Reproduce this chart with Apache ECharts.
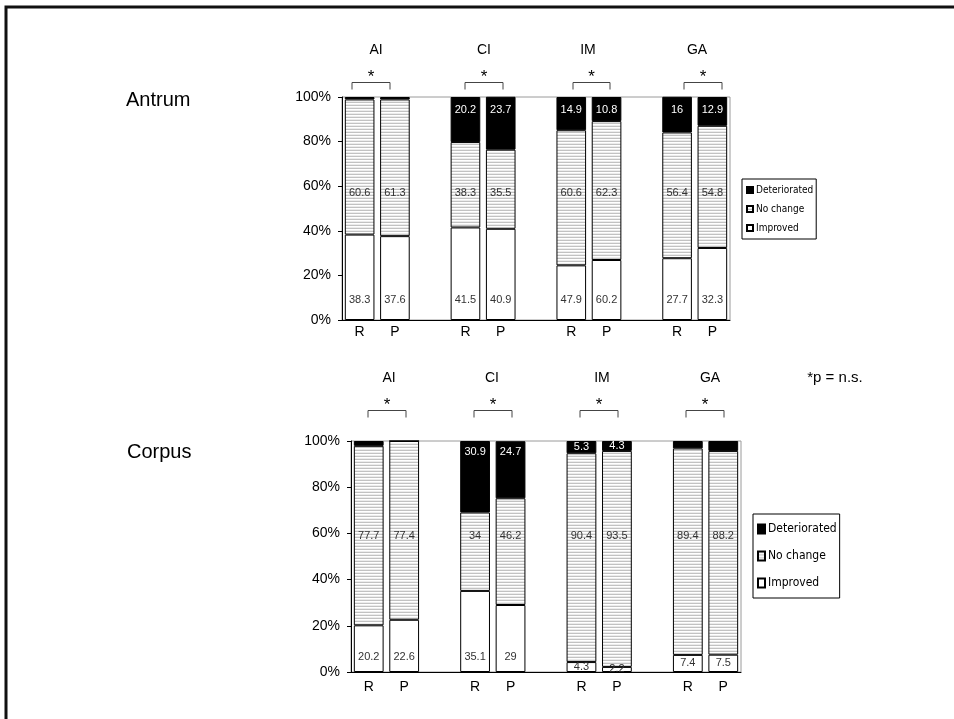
<!DOCTYPE html>
<html>
<head>
<meta charset="utf-8">
<script src="https://cdn.jsdelivr.net/npm/echarts@6/dist/echarts.min.js"></script>
<style>html,body{margin:0;padding:0;background:#fff}#c{width:954px;height:719px}</style>
</head>
<body>
<div id="c"></div>
<script>
// ---------------- DATA ----------------
const groups = ['AI', 'CI', 'IM', 'GA'];
const categories = ['AI-R', 'AI-P', 'gap1', 'CI-R', 'CI-P', 'gap2', 'IM-R', 'IM-P', 'gap3', 'GA-R', 'GA-P'];
const yTicks = [0, 20, 40, 60, 80, 100];
const seriesNames = ['Deteriorated', 'No change', 'Improved'];

// Antrum (order: AI R, AI P, CI R, CI P, IM R, IM P, GA R, GA P) - bar heights
const antrumImproved     = [38.3, 37.6, 41.5, 40.9, 24.5, 26.9, 27.7, 32.3];
const antrumNoChange     = [60.6, 61.3, 38.3, 35.5, 60.6, 62.3, 56.4, 54.8];
const antrumDeteriorated = [1.1, 1.1, 20.2, 23.7, 14.9, 10.8, 16.0, 12.9];
// printed labels
const antrumImprovedLabels     = ['38.3', '37.6', '41.5', '40.9', '47.9', '60.2', '27.7', '32.3'];
const antrumNoChangeLabels     = ['60.6', '61.3', '38.3', '35.5', '60.6', '62.3', '56.4', '54.8'];
const antrumDeterioratedLabels = ['', '', '20.2', '23.7', '14.9', '10.8', '16', '12.9'];

// Corpus
const corpusImproved     = [20.2, 22.6, 35.1, 29.0, 4.3, 2.2, 7.4, 7.5];
const corpusNoChange     = [77.7, 77.4, 34.0, 46.2, 90.4, 93.5, 89.4, 88.2];
const corpusDeteriorated = [2.1, 0, 30.9, 24.7, 5.3, 4.3, 3.2, 4.3];
const corpusImprovedLabels     = ['20.2', '22.6', '35.1', '29', '4.3', '2.2', '7.4', '7.5'];
const corpusNoChangeLabels     = ['77.7', '77.4', '34', '46.2', '90.4', '93.5', '89.4', '88.2'];
const corpusDeterioratedLabels = ['', '', '30.9', '24.7', '5.3', '4.3', '', ''];

// ---------------- STYLE ----------------
const FONT = "'Liberation Sans', Arial, sans-serif";
const NARROW = "'Liberation Sans Narrow', 'DejaVu Sans Condensed', 'Liberation Sans', Arial, sans-serif";

function hatch() {
  const c = document.createElement('canvas');
  c.width = 4; c.height = 3;
  const x = c.getContext('2d');
  x.fillStyle = '#ffffff'; x.fillRect(0, 0, 4, 3);
  x.fillStyle = '#c2c2c2'; x.fillRect(0, 0, 4, 1);
  x.fillStyle = '#ececec'; x.fillRect(0, 2, 4, 1);
  return { image: c, repeat: 'repeat' };
}
const hatchPattern = hatch();

const panels = [
  { key: 'antrum', grid: { left: 342, top: 97, width: 388, height: 223 },
    imp: antrumImproved, nc: antrumNoChange, det: antrumDeteriorated,
    impL: antrumImprovedLabels, ncL: antrumNoChangeLabels, detL: antrumDeterioratedLabels,
    impDist: 15, ncLevel: 57.1, detDist: 7.5, xMargin: 5 },
  { key: 'corpus', grid: { left: 351, top: 441, width: 390, height: 231 },
    imp: corpusImproved, nc: corpusNoChange, det: corpusDeteriorated,
    impL: corpusImprovedLabels, ncL: corpusNoChangeLabels, detL: corpusDeterioratedLabels,
    impDist: 9.5, ncLevel: 58.8, detDist: 5, xMargin: 8 }
];

function expandIdx() {
  const idx = []; let k = 0;
  categories.forEach(c => { if (c.startsWith('gap')) idx.push(-1); else idx.push(k++); });
  return idx;
}
const IDX = expandIdx();

const grids = [], xAxes = [], yAxes = [], series = [];
const labelBase = { show: true, fontSize: 11, fontFamily: FONT, color: '#333' };

panels.forEach((p, pi) => {
  grids.push(Object.assign({ show: true, borderColor: '#9a9a9a', borderWidth: 1, backgroundColor: 'transparent' }, p.grid));
  xAxes.push({
    type: 'category', gridIndex: pi, data: categories,
    axisLine: { lineStyle: { color: '#000', width: 1 } },
    axisTick: { show: false },
    axisLabel: { margin: p.xMargin, fontSize: 14, color: '#000', fontFamily: FONT, interval: 0,
      formatter: v => v.startsWith('gap') ? '' : v.split('-')[1] }
  });
  yAxes.push({
    type: 'value', gridIndex: pi, min: yTicks[0], max: yTicks[yTicks.length - 1], interval: 20,
    axisLine: { show: true, lineStyle: { color: '#000', width: 1 } },
    axisTick: { show: true, inside: false, length: 4, lineStyle: { color: '#000' } },
    splitLine: { show: false },
    axisLabel: { margin: 11, fontSize: 14, color: '#000', fontFamily: FONT, formatter: '{value}%' }
  });
  const k = p.grid.height / 100;
  const mk = (vals, labels, kind) => IDX.map(i => {
    if (i < 0) return null;
    const v = vals[i];
    const lab = Object.assign({}, labelBase, { formatter: labels[i] });
    if (!labels[i]) lab.show = false;
    if (kind === 'imp') {
      if (v < 10) { lab.position = 'inside'; } else { lab.position = 'insideBottom'; lab.distance = p.impDist; }
    } else if (kind === 'nc') {
      const c = p.imp[i] + v / 2;
      lab.position = 'inside';
      lab.offset = [0, (c - p.ncLevel) * k];
    } else {
      lab.color = '#fff';
      if (v < 10) { lab.position = 'inside'; } else { lab.position = 'insideTop'; lab.distance = p.detDist; }
    }
    return { value: v, label: lab };
  });
  const common = { type: 'bar', stack: p.key, xAxisIndex: pi, yAxisIndex: pi, barCategoryGap: '16%' };
  series.push(Object.assign({}, common, { name: 'Improved', data: mk(p.imp, p.impL, 'imp'),
    itemStyle: { color: '#fff', borderColor: '#000', borderWidth: 1 } }));
  series.push(Object.assign({}, common, { name: 'No change', data: mk(p.nc, p.ncL, 'nc'),
    itemStyle: { color: hatchPattern, borderColor: '#000', borderWidth: 1 } }));
  series.push(Object.assign({}, common, { name: 'Deteriorated', data: mk(p.det, p.detL, 'det'),
    itemStyle: { color: '#000', borderColor: '#000', borderWidth: 1 } }));
});

// ---------------- ANNOTATIONS ----------------
const topBrackets = [[352, 390], [465, 503], [573, 610], [684, 722]];
const botBrackets = [[368, 406], [474, 512], [580, 618], [686, 724]];
const topTitleX = [376, 484, 588, 697];
const botTitleX = [389, 492, 602, 710];
const graphic = [];
graphic.push({ type: 'rect', shape: { x: 6, y: 7, width: 1200, height: 1200 }, style: { fill: 'none', stroke: '#111', lineWidth: 3 }, silent: true });
function txt(x, y, s, size, align, extra) {
  graphic.push({ type: 'text', x: x, y: y, style: Object.assign({ text: s, fontSize: size, fontFamily: FONT, fill: '#000', align: align || 'center', verticalAlign: 'middle' }, extra || {}) });
}
txt(126, 100, 'Antrum', 20, 'left');
txt(127, 452, 'Corpus', 20, 'left');
groups.forEach((g, i) => { txt(topTitleX[i], 50, g, 14); txt(botTitleX[i], 378, g, 14); });
txt(835, 378, '*p = n.s.', 15);
function bracket(b, yTop, yBot, starY) {
  graphic.push({ type: 'polyline', shape: { points: [[b[0], yBot], [b[0], yTop], [b[1], yTop], [b[1], yBot]] }, style: { stroke: '#444', lineWidth: 1, fill: 'none' } });
  txt((b[0] + b[1]) / 2, starY, '*', 17);
}
topBrackets.forEach(b => bracket(b, 82.5, 89.5, 77.5));
botBrackets.forEach(b => bracket(b, 410.5, 417.5, 405.5));

const chart = echarts.init(document.getElementById('c'), null, { renderer: 'canvas' });
chart.setOption({
  animation: false,
  backgroundColor: '#fff',
  grid: grids, xAxis: xAxes, yAxis: yAxes, series: series,
  legend: [
    { orient: 'vertical', left: 742, top: 179, data: seriesNames, icon: 'rect', itemWidth: 6, itemHeight: 6, itemGap: 9,
      padding: [6, 3, 6, 4], borderColor: '#000', borderWidth: 1, selectedMode: false,
      textStyle: { fontSize: 10, fontFamily: NARROW, color: '#000', padding: [0, 0, 0, -2] } },
    { orient: 'vertical', left: 753, top: 514, data: seriesNames, icon: 'rect', itemWidth: 7, itemHeight: 9, itemGap: 15,
      padding: [9, 3, 9, 4], borderColor: '#000', borderWidth: 1, selectedMode: false,
      textStyle: { fontSize: 12, fontFamily: NARROW, color: '#000', padding: [0, 0, 0, -2] } }
  ],
  graphic: graphic
});
</script>
</body>
</html>
